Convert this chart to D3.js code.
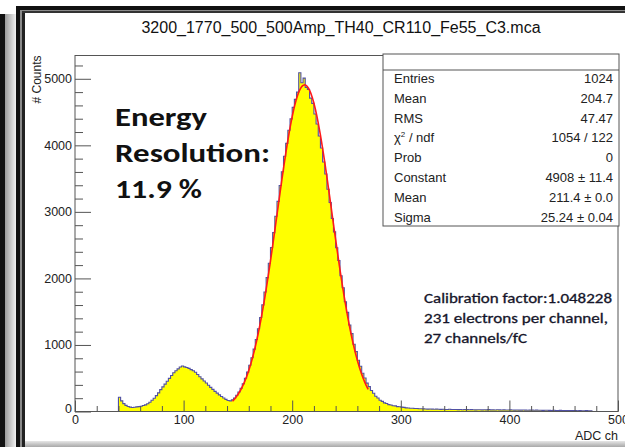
<!DOCTYPE html>
<html>
<head>
<meta charset="utf-8">
<script src="https://cdn.jsdelivr.net/npm/d3@7"></script>
<style>
  html, body { margin: 0; padding: 0; background: #fff; }
  svg { display: block; }
</style>
</head>
<body>
<svg id="chart" width="625" height="447"></svg>
<script>
// ---- data -------------------------------------------------------------
const title = "3200_1770_500_500Amp_TH40_CR110_Fe55_C3.mca";

// histogram: first bin starts at channel 40, 2 channels per bin
const channelStart = 40;
const binWidth = 2;
const counts = [
  215, 160, 118, 92, 76, 66, 60, 63, 70, 74,
  80, 90, 100, 116, 140, 168, 200, 238, 280, 328,
  370, 412, 455, 498, 540, 582, 612, 640, 668, 684,
  670, 662, 648, 630, 612, 590, 556, 522, 490, 458,
  428, 395, 362, 332, 302, 276, 250, 226, 204, 182,
  166, 160, 176, 202, 244, 292, 350, 418, 500, 592,
  694, 808, 938, 1082, 1244, 1412, 1602, 1796, 2012, 2228,
  2462, 2688, 2934, 3158, 3396, 3604, 3836, 4030, 4226, 4398,
  4570, 4690, 4800, 5090, 4940, 5010, 4870, 4840, 4710, 4630,
  4470, 4320, 4140, 3960, 3750, 3570, 3340, 3140, 2900, 2700,
  2460, 2270, 2040, 1860, 1650, 1490, 1300, 1170, 1010, 900,
  770, 680, 574, 504, 426, 374, 316, 274, 230, 202,
  170, 152, 130, 120, 104, 98, 86, 84, 74, 72,
  66, 62, 55, 53, 49, 48, 45, 44, 41, 41,
  40, 38, 36, 37, 35, 34, 36, 33, 32, 34,
  31, 30, 33, 30, 29, 31, 28, 29, 27, 30,
  28, 26, 28, 27, 25, 27, 26, 24, 26, 25,
  30, 24, 25, 23, 26, 24, 22, 25, 23, 22,
  24, 22, 21, 23, 21, 20, 22, 20, 19, 21,
  20, 18, 20, 19, 18, 17, 19, 18, 17, 16,
  18, 16, 15, 17, 15, 14, 16, 14, 13, 15,
  13, 12, 14, 12, 11, 13, 11, 10
];

const xDomain = [0, 500];
const yDomain = [0, 5350];
const xTicksMajor = [0, 100, 200, 300, 400, 500];
const yTicksMajor = [0, 1000, 2000, 3000, 4000, 5000];
const xTitle = "ADC ch";
const yTitle = "# Counts";

// gaussian fit result
const fitConstant = 4908;
const fitMean = 211.4;
const fitSigma = 25.24;
const fitRange = [145, 270];

const statsLabels = ["Entries", "Mean", "RMS", "χ2 / ndf", "Prob", "Constant", "Mean", "Sigma"];
const statsValues = ["1024", "204.7", "47.47", "1054 / 122", "0", "4908 ± 11.4", "211.4 ± 0.0", "25.24 ± 0.04"];

const resolutionLines = ["Energy", "Resolution:", "11.9 %"];
const calibrationLines = ["Calibration factor:1.048228", "231 electrons per channel,", "27 channels/fC"];

// ---- layout -----------------------------------------------------------
const svg = d3.select("#chart");
const W = 625, H = 447;
const frame = { left: 75, right: 618, top: 55.5, bottom: 411.5 };

const x = d3.scaleLinear().domain(xDomain).range([frame.left, frame.right]);
const y = d3.scaleLinear().domain(yDomain).range([frame.bottom, frame.top]);

const rootFont = "'Liberation Sans', Arial, Helvetica, sans-serif";
const noteFont = "Carlito, Calibri, 'Open Sans', Lato, sans-serif";

svg.append("rect").attr("width", W).attr("height", H).attr("fill", "#fff");

// window edges around the canvas
const defs = svg.append("defs");
const gBottom = defs.append("linearGradient").attr("id", "edgeBottom").attr("x1", 0).attr("y1", 0).attr("x2", 0).attr("y2", 1);
gBottom.append("stop").attr("offset", 0).attr("stop-color", "#e6e6e6");
gBottom.append("stop").attr("offset", 1).attr("stop-color", "#a8a8a8");
const gSide = defs.append("linearGradient").attr("id", "edgeSide").attr("x1", 0).attr("y1", 0).attr("x2", 1).attr("y2", 0);
gSide.append("stop").attr("offset", 0).attr("stop-color", "#9a9a9a");
gSide.append("stop").attr("offset", 1).attr("stop-color", "#f2f2f2");

const edges = svg.append("g");
edges.append("rect").attr("x", 0).attr("y", 14).attr("width", 5).attr("height", H - 14).attr("fill", "#111");
edges.append("rect").attr("x", 5).attr("y", 14).attr("width", 11).attr("height", H - 14).attr("fill", "url(#edgeSide)");
edges.append("rect").attr("x", 16).attr("y", 6).attr("width", 4).attr("height", H - 6).attr("fill", "#111");
edges.append("rect").attr("x", 20).attr("y", 10).attr("width", 2).attr("height", H - 10).attr("fill", "#8a8a8a");
edges.append("rect").attr("x", 22).attr("y", 10).attr("width", 3).attr("height", H - 10).attr("fill", "#222");
edges.append("rect").attr("x", 16).attr("y", 6).attr("width", W - 16).attr("height", 4).attr("fill", "#111");
edges.append("rect").attr("x", 20).attr("y", 10).attr("width", W - 20).attr("height", 1).attr("fill", "#8a8a8a");
edges.append("rect").attr("x", 22).attr("y", 11).attr("width", W - 22).attr("height", 2).attr("fill", "#333");
edges.append("rect").attr("x", 25).attr("y", 441).attr("width", W - 25).attr("height", 6).attr("fill", "url(#edgeBottom)");

// title
svg.append("text")
  .attr("x", 341).attr("y", 33)
  .attr("text-anchor", "middle")
  .attr("font-family", rootFont).attr("font-size", 16)
  .attr("fill", "#111")
  .text(title);

// ---- histogram ----------------------------------------------------------
const steps = counts.map((c, i) => ({ edge: channelStart + i * binWidth, value: c }));
steps.push({ edge: channelStart + counts.length * binWidth, value: 0 });

const area = d3.area()
  .curve(d3.curveStepAfter)
  .x(d => x(d.edge))
  .y0(y(0))
  .y1(d => y(d.value));

const outline = d3.line()
  .curve(d3.curveStepAfter)
  .x(d => x(d.edge))
  .y(d => y(d.value));

const outlinePts = [{ edge: channelStart, value: 0 }].concat(steps);

svg.append("path").datum(steps).attr("d", area).attr("fill", "#ffff00");
svg.append("path").datum(outlinePts).attr("d", outline)
  .attr("fill", "none").attr("stroke", "#5050a4").attr("stroke-width", 1.1);

// gaussian fit curve
const fitPts = d3.range(fitRange[0], fitRange[1] + 0.01, 0.5)
  .map(v => [v, fitConstant * Math.exp(-0.5 * Math.pow((v - fitMean) / fitSigma, 2))]);
svg.append("path").datum(fitPts)
  .attr("d", d3.line().x(d => x(d[0])).y(d => y(d[1])).curve(d3.curveLinear))
  .attr("fill", "none").attr("stroke", "#ff1a1a").attr("stroke-width", 1.6);

// ---- frame and axes ----------------------------------------------------
svg.append("rect")
  .attr("x", frame.left).attr("y", frame.top)
  .attr("width", frame.right - frame.left).attr("height", frame.bottom - frame.top)
  .attr("fill", "none").attr("stroke", "#555").attr("stroke-width", 1);

const xMinor = d3.range(xDomain[0], xDomain[1] + 1, 20).filter(v => v % 100 !== 0);
const yMinor = d3.range(0, yDomain[1], 200).filter(v => v % 1000 !== 0);

function styleAxis(g) {
  g.select(".domain").remove();
  g.selectAll("line").attr("stroke", "#555");
  g.selectAll("text").attr("font-family", rootFont).attr("font-size", 12.5).attr("fill", "#222");
}

svg.append("g").attr("transform", `translate(0,${frame.bottom})`)
  .call(d3.axisBottom(x).tickValues(xMinor).tickSize(-5.5).tickFormat(""))
  .call(styleAxis);
svg.append("g").attr("transform", `translate(0,${frame.bottom})`)
  .call(d3.axisBottom(x).tickValues(xTicksMajor).tickSize(-11).tickPadding(4).tickFormat(d3.format("d")))
  .call(styleAxis);

svg.append("g").attr("transform", `translate(${frame.left},0)`)
  .call(d3.axisLeft(y).tickValues(yMinor).tickSize(-8).tickFormat(""))
  .call(styleAxis);
svg.append("g").attr("transform", `translate(${frame.left},0)`)
  .call(d3.axisLeft(y).tickValues(yTicksMajor).tickSize(-16).tickPadding(3).tickFormat(d3.format("d")))
  .call(styleAxis)
  .selectAll(".tick")
  .filter(d => d === 0)
  .select("text").attr("dy", "0.1em");

svg.append("text")
  .attr("x", frame.right).attr("y", 440)
  .attr("text-anchor", "end")
  .attr("font-family", rootFont).attr("font-size", 12.5).attr("fill", "#222")
  .text(xTitle);

svg.append("text")
  .attr("transform", `translate(41,${frame.top}) rotate(-90)`)
  .attr("text-anchor", "end")
  .attr("font-family", rootFont).attr("font-size", 12).attr("fill", "#222")
  .text(yTitle);

// ---- statistics box ---------------------------------------------------
const box = { left: 383, right: 619, top: 54, sep: 70, bottom: 226 };
const stats = svg.append("g");
stats.append("rect")
  .attr("x", box.left).attr("y", box.top)
  .attr("width", box.right - box.left).attr("height", box.bottom - box.top)
  .attr("fill", "#fff").attr("stroke", "#555").attr("stroke-width", 1);
stats.append("line")
  .attr("x1", box.left).attr("x2", box.right).attr("y1", box.sep).attr("y2", box.sep)
  .attr("stroke", "#555");

const rowStep = 19.8;
statsLabels.forEach((lab, i) => {
  const by = 83 + i * rowStep;
  const t = stats.append("text")
    .attr("x", 394).attr("y", by)
    .attr("font-family", rootFont).attr("font-size", 13).attr("fill", "#222");
  if (lab.startsWith("χ2")) {
    t.append("tspan").text("χ");
    t.append("tspan").attr("dy", -5).attr("font-size", 8).text("2");
    t.append("tspan").attr("dy", 5).text(" / ndf");
  } else {
    t.text(lab);
  }
  stats.append("text")
    .attr("x", 613).attr("y", by)
    .attr("text-anchor", "end")
    .attr("font-family", rootFont).attr("font-size", 13).attr("fill", "#222")
    .text(statsValues[i]);
});

// ---- annotations --------------------------------------------------------
const resWidths = [92, 155, 87];
resolutionLines.forEach((line, i) => {
  svg.append("text")
    .attr("x", 115).attr("y", 126 + i * 36)
    .attr("font-family", noteFont).attr("font-size", 26).attr("font-weight", 600).attr("fill", "#111")
    .attr("textLength", resWidths[i]).attr("lengthAdjust", "spacingAndGlyphs")
    .text(line);
});

const calWidths = [188, 184, 103];
calibrationLines.forEach((line, i) => {
  svg.append("text")
    .attr("x", 424).attr("y", 303 + i * 20)
    .attr("font-family", noteFont).attr("font-size", 14).attr("font-weight", 400)
    .attr("fill", "#15152a").attr("stroke", "#15152a").attr("stroke-width", 0.3)
    .attr("textLength", calWidths[i]).attr("lengthAdjust", "spacingAndGlyphs")
    .text(line);
});
</script>
</body>
</html>
